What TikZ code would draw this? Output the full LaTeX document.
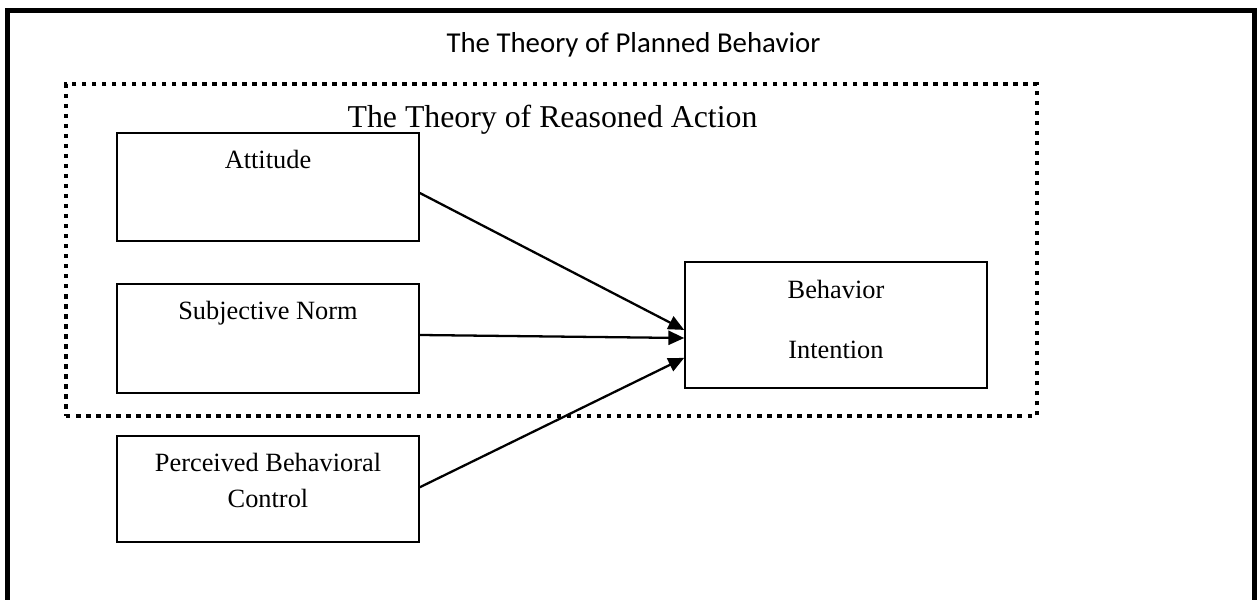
\documentclass[tikz,border=0pt]{standalone}
\usepackage{fontspec}
\setmainfont{Liberation Serif}
\newfontfamily\calibri{Carlito}
\usetikzlibrary{positioning,arrows.meta}

\begin{document}
\begin{tikzpicture}[
  x=0.02cm, y=-0.02cm,
  box/.style={draw,rectangle,line width=0.95pt,inner sep=0pt,minimum width=6.04cm},
  boxtext/.style={anchor=base,font=\fontsize{15}{18}\selectfont},
  dotbox/.style={draw,rectangle,line width=2.6pt,dash pattern=on 2.5pt off 3.2pt,inner sep=0pt},
  link/.style={line width=1.3pt,-{Triangle[length=9pt,width=8pt]}}
]
\useasboundingbox (0,0) rectangle (1257,599);
% outer frame, open at the bottom
\draw[line width=2.9pt] (7.5,650) -- (7.5,10.5) -- (1254.5,10.5) -- (1254.5,650);
\node[anchor=base,font=\calibri\fontsize{16.4}{20}\selectfont] (tpb) at (633.5,52) {The Theory of Planned Behavior};

% the theory of reasoned action
\node[dotbox,minimum width=19.42cm,minimum height=6.64cm] (tra) at (551.5,250) {};
\node[anchor=base,font=\fontsize{18.1}{22}\selectfont] (tratitle) at (552.5,127) {The Theory of Reasoned Action};

\node[box,minimum height=2.16cm] (att) at (268,187) {};
\node[box,minimum height=2.18cm] (sub) at (268,338.5) {};
\node[box,minimum height=2.12cm] (pbc) at (268,489) {};
\node[box,minimum height=2.52cm] (bi) at (836,325) {};

\node[boxtext] (atttxt) at (268,168) {Attitude};
\node[boxtext] (subtxt) at (268,319) {Subjective Norm};
\node[boxtext] (pbctxt) at (268,471) {Perceived Behavioral};
\node[boxtext] (pbctxtb) at (268,507) {Control};
\node[boxtext] (bitxt) at (836,298) {Behavior};
\node[boxtext] (bitxtb) at (836,358) {Intention};

\draw[link] ([yshift=-3.4pt]att.east) -- ([yshift=-2.8pt]bi.west);
\draw[link] ([yshift=2pt]sub.east) -- ([yshift=-7.4pt]bi.west);
\draw[link] ([yshift=1pt]pbc.east) -- ([yshift=-18.7pt]bi.west);
\end{tikzpicture}
\end{document}
